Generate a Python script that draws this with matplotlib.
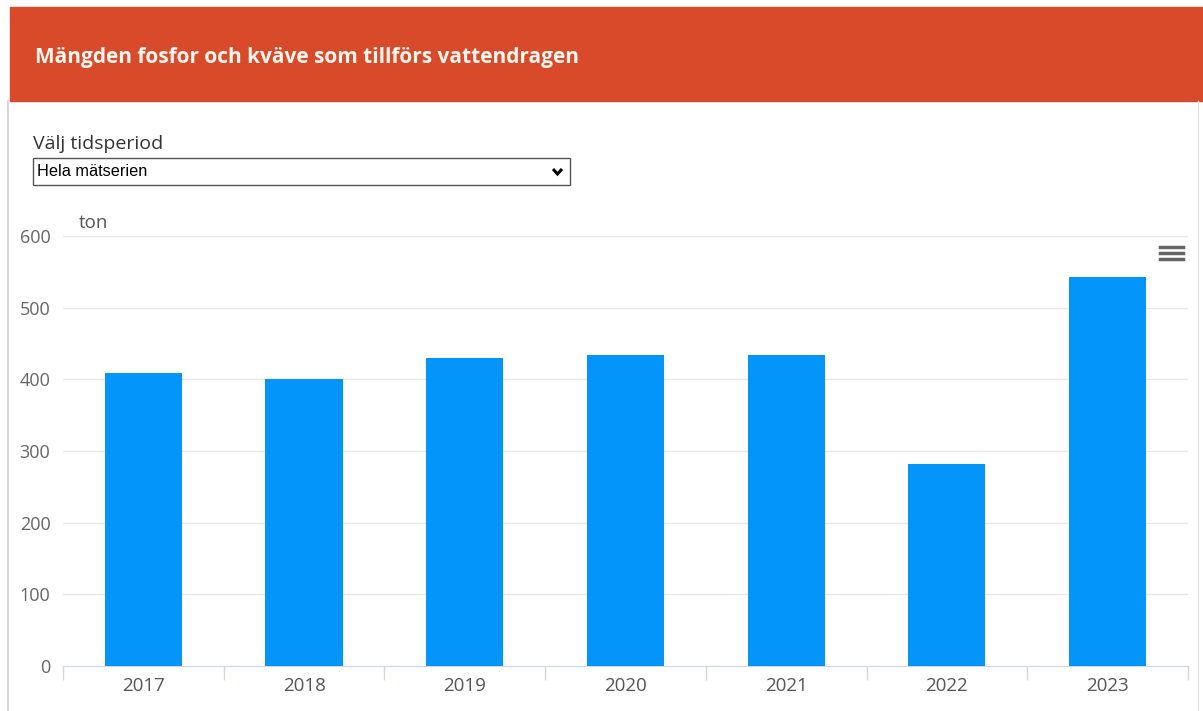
import matplotlib
matplotlib.use('Agg')
import matplotlib.pyplot as plt
from matplotlib.patches import Rectangle
import numpy as np

# data
years = ['2017', '2018', '2019', '2020', '2021', '2022', '2023']
tonnes = [409, 401, 430, 434, 434, 282, 543]
y_ticks = [0, 100, 200, 300, 400, 500, 600]

W, H = 1203, 711
fig = plt.figure(figsize=(W / 100, H / 100), dpi=100)
fig.patch.set_facecolor('white')


def fx(px):
    return px / W


def fy(py):
    return 1 - py / H


# ── header band ──────────────────────────────────────────────────────────
fig.patches.append(Rectangle((fx(10), fy(101)), fx(1193), 94 / H,
                             transform=fig.transFigure, color='#d94a2b', zorder=0))
fig.text(fx(35), fy(57), 'Mängden fosfor och kväve som tillförs vattendragen',
         color='#fff6ee', fontsize=15, fontweight='bold', family='Open Sans',
         va='center', ha='left')

# panel borders
fig.add_artist(plt.Line2D([fx(8), fx(8)], [fy(101), 0], transform=fig.transFigure,
                          color='#d8d8d8', lw=1.5))
fig.add_artist(plt.Line2D([fx(1198), fx(1198)], [fy(101), 0], transform=fig.transFigure,
                          color='#e6e6e6', lw=1))

# ── period selector ──────────────────────────────────────────────────────
fig.text(fx(33), fy(144), 'Välj tidsperiod', color='#333333', fontsize=14,
         family='Open Sans', va='center', ha='left')
fig.patches.append(Rectangle((fx(33), fy(185)), fx(537), 27 / H,
                             transform=fig.transFigure, facecolor='white',
                             edgecolor='#555555', lw=1, zorder=1))
fig.text(fx(37), fy(171), 'Hela mätserien', color='black', fontsize=11.7,
         family='Liberation Sans', va='center', ha='left', zorder=2)
fig.add_artist(plt.Line2D([fx(553), fx(557.5), fx(562)], [fy(169), fy(174), fy(169)],
                          transform=fig.transFigure, color='black', lw=2.2,
                          solid_capstyle='butt', solid_joinstyle='miter'))

# ── chart ────────────────────────────────────────────────────────────────
ax = fig.add_axes([fx(63), fy(666), fx(1188 - 63), (666 - 236) / H])
x = np.arange(len(years))
ax.bar(x, tonnes, width=0.48, color='#0395f9', zorder=3)
ax.set_xlim(-0.5, len(years) - 0.5)
ax.set_ylim(0, 600)
ax.set_yticks(y_ticks)
ax.set_yticklabels([str(v) for v in y_ticks], color='#666666', fontsize=13,
                   family='Open Sans')
ax.set_xticks(x)
ax.set_xticklabels(years, color='#555555', fontsize=13.5, family='Open Sans')
ax.tick_params(axis='y', length=0, pad=9)
ax.tick_params(axis='x', length=0, pad=8)
ax.set_xticks(np.arange(len(years) + 1) - 0.5, minor=True)
ax.tick_params(axis='x', which='minor', length=10, color='#ccd6eb', width=1)
ax.grid(axis='y', color='#e6e6e6', lw=1, zorder=0)
for s in ['top', 'right', 'left']:
    ax.spines[s].set_visible(False)
ax.spines['bottom'].set_color('#ccd6eb')

ax.text(0.014, 1.01, 'ton', transform=ax.transAxes, color='#555555', fontsize=13.5,
        family='Open Sans', va='bottom', ha='left')

# context menu icon
for dy in (247, 253, 259):
    fig.add_artist(plt.Line2D([fx(1160), fx(1183)], [fy(dy), fy(dy)],
                              transform=fig.transFigure, color='#666666', lw=2.5))

fig.savefig('out.png', dpi=100)
